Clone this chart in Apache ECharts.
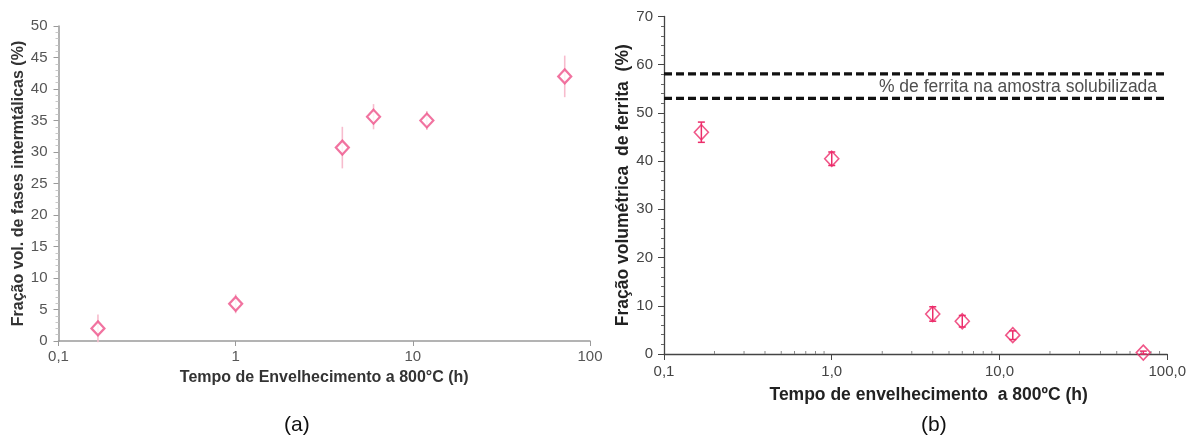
<!DOCTYPE html>
<html>
<head>
<meta charset="utf-8">
<script src="https://cdn.jsdelivr.net/npm/echarts@6/dist/echarts.min.js"></script>
<style>
  html, body { margin: 0; padding: 0; background: #fff; }
  #chart { width: 1189px; height: 441px; }
</style>
</head>
<body>
<div id="chart"></div>
<script>
// Aging time at 800 °C (h), shared by both panels
const agingHours = [0.167, 1, 4, 6, 12, 72];

// (a) intermetallic phase volume fraction (%) and its spread
const intermetallicPct = [2.0, 5.9, 30.7, 35.6, 35.0, 42.0];
const intermetallicErr = [2.2, 1.5, 3.3, 2.0, 1.5, 3.3];

// (b) ferrite volume fraction (%) and its spread
const ferritePct = [46.0, 40.5, 8.3, 6.8, 3.9, 0.3];
const ferriteErr = [2.1, 1.4, 1.5, 1.2, 0.9, 0.3];

// ferrite band of the solution-annealed sample (%)
const solubilizedBand = [58.1, 53.0];
const solubilizedLabel = '% de ferrita na amostra solubilizada';

// tick labels
const xTickLabelsA = ['0,1', '1', '10', '100'];
const xTickLabelsB = ['0,1', '1,0', '10,0', '100,0'];
const logMinorTicksB = [0.2, 0.3, 0.4, 0.5, 0.6, 0.7, 0.8, 0.9,
                        2, 3, 4, 5, 6, 7, 8, 9,
                        20, 30, 40, 50, 60, 70, 80, 90];

const FONT = 'Liberation Sans, Arial, sans-serif';
const PINK_A = '#ee5088';
const PINK_B = '#ec2c6a';

function decadeLabel(labels) {
  return function (v) {
    const i = Math.round(Math.log10(v)) + 1;
    return labels[i] !== undefined ? labels[i] : '';
  };
}

function errorBars(color, width, cap) {
  return function (params, api) {
    const x = api.value(0), y = api.value(1), e = api.value(2);
    const top = api.coord([x, y + e]);
    const bot = api.coord([x, y - e]);
    const style = { stroke: color, lineWidth: width };
    const children = [
      { type: 'line', shape: { x1: top[0], y1: top[1], x2: bot[0], y2: bot[1] }, style: style }
    ];
    if (cap > 0) {
      children.push({ type: 'line', shape: { x1: top[0] - cap, y1: top[1], x2: top[0] + cap, y2: top[1] }, style: style });
      children.push({ type: 'line', shape: { x1: bot[0] - cap, y1: bot[1], x2: bot[0] + cap, y2: bot[1] }, style: style });
    }
    return { type: 'group', children: children };
  };
}

const pointsA = agingHours.map((t, i) => [t, intermetallicPct[i]]);
const barsA = agingHours.map((t, i) => [t, intermetallicPct[i], intermetallicErr[i]]);
const pointsB = agingHours.map((t, i) => [t, ferritePct[i]]);
const barsB = agingHours.map((t, i) => [t, ferritePct[i], ferriteErr[i]]);

const chart = echarts.init(document.getElementById('chart'), null, { renderer: 'canvas' });

chart.setOption({
  backgroundColor: '#ffffff',
  animation: false,
  textStyle: { fontFamily: FONT },
  grid: [
    { left: 58.5, top: 26, width: 531.5, height: 315 },
    { left: 664, top: 16.5, width: 504, height: 337.5 }
  ],
  xAxis: [
    {
      gridIndex: 0, type: 'log', logBase: 10, min: 0.1, max: 100,
      name: 'Tempo de Envelhecimento a 800°C (h)',
      nameLocation: 'middle', nameGap: 29,
      nameTextStyle: { fontFamily: FONT, fontSize: 16, fontWeight: 'bold', color: '#333' },
      axisLine: { lineStyle: { color: '#9a9a9a', width: 1.5 } },
      axisTick: { show: true, length: 5, lineStyle: { color: '#9a9a9a' } },
      axisLabel: { margin: 8, fontSize: 15, color: '#555', formatter: decadeLabel(xTickLabelsA) },
      splitLine: { show: false }
    },
    {
      gridIndex: 1, type: 'log', logBase: 10, min: 0.1, max: 100,
      name: 'Tempo de envelhecimento  a 800ºC (h)',
      nameLocation: 'middle', nameGap: 32,
      nameTextStyle: { fontFamily: FONT, fontSize: 17.5, fontWeight: 'bold', color: '#222', padding: [0, 0, 0, 26] },
      axisLine: { lineStyle: { color: '#444', width: 1.3 } },
      axisTick: { show: true, length: 6, lineStyle: { color: '#444' } },
      axisLabel: { margin: 10, fontSize: 15, color: '#444', formatter: decadeLabel(xTickLabelsB) },
      splitLine: { show: false }
    }
  ],
  yAxis: [
    {
      gridIndex: 0, type: 'value', min: 0, max: 50, interval: 5,
      name: 'Fração vol. de fases intermtálicas (%)',
      nameLocation: 'middle', nameGap: 29,
      nameTextStyle: { fontFamily: FONT, fontSize: 16, fontWeight: 'bold', color: '#333' },
      axisLine: { show: true, lineStyle: { color: '#9a9a9a', width: 1.5 } },
      axisTick: { show: true, length: 5, lineStyle: { color: '#9a9a9a' } },
      minorTick: { show: true, splitNumber: 5, length: 3, lineStyle: { color: '#c8c8c8' } },
      axisLabel: { margin: 11, fontSize: 15, color: '#555' },
      splitLine: { show: false }
    },
    {
      gridIndex: 1, type: 'value', min: 0, max: 70, interval: 10,
      name: 'Fração volumétrica  de ferrita  (%)',
      nameLocation: 'middle', nameGap: 31,
      nameTextStyle: { fontFamily: FONT, fontSize: 17.5, fontWeight: 'bold', color: '#222' },
      axisLine: { show: true, lineStyle: { color: '#444', width: 1.3 } },
      axisTick: { show: true, length: 6, lineStyle: { color: '#444' } },
      minorTick: { show: true, splitNumber: 5, length: 3, lineStyle: { color: '#666' } },
      axisLabel: { margin: 11, fontSize: 15, color: '#444' },
      splitLine: { show: false }
    }
  ],
  graphic: [
    { type: 'text', left: 284, top: 415, style: { text: '(a)', fontFamily: FONT, fontSize: 21, fill: '#111' } },
    { type: 'text', left: 921, top: 415, style: { text: '(b)', fontFamily: FONT, fontSize: 21, fill: '#111' } }
  ],
  series: [
    // (a) spread bars and points
    {
      type: 'custom', xAxisIndex: 0, yAxisIndex: 0, z: 2,
      renderItem: errorBars('#f7bccd', 1.6, 0),
      encode: { x: 0, y: 1 },
      data: barsA
    },
    {
      type: 'scatter', xAxisIndex: 0, yAxisIndex: 0, z: 3,
      symbol: 'diamond', symbolSize: [13, 14],
      itemStyle: { color: '#ffffff', borderColor: PINK_A, borderWidth: 2.2 },
      data: pointsA
    },
    // (b) reference band of the solubilized sample
    {
      type: 'line', xAxisIndex: 1, yAxisIndex: 1, z: 2,
      symbol: 'none', silent: true,
      lineStyle: { color: '#111', width: 3.2, type: [8, 4] },
      data: [[0.1, solubilizedBand[0]], [100, solubilizedBand[0]]]
    },
    {
      type: 'line', xAxisIndex: 1, yAxisIndex: 1, z: 2,
      symbol: 'none', silent: true,
      lineStyle: { color: '#111', width: 3.2, type: [8, 4] },
      data: [[0.1, solubilizedBand[1]], [100, solubilizedBand[1]]]
    },
    {
      type: 'scatter', xAxisIndex: 1, yAxisIndex: 1, z: 4,
      symbolSize: 0, silent: true,
      label: {
        show: true, position: 'left', distance: 0,
        formatter: solubilizedLabel,
        fontFamily: FONT, fontSize: 17.5, color: '#222'
      },
      data: [[87, (solubilizedBand[0] + solubilizedBand[1]) / 2 - 0.2]]
    },
    // (b) log minor ticks along the time axis
    {
      type: 'custom', xAxisIndex: 1, yAxisIndex: 1, z: 1, silent: true,
      renderItem: function (params, api) {
        const p = api.coord([api.value(0), 0]);
        return { type: 'line', shape: { x1: p[0], y1: p[1], x2: p[0], y2: p[1] - 3 },
                 style: { stroke: '#888', lineWidth: 1 } };
      },
      encode: { x: 0 },
      data: logMinorTicksB.map(v => [v])
    },
    // (b) spread bars and points
    {
      type: 'custom', xAxisIndex: 1, yAxisIndex: 1, z: 3,
      renderItem: errorBars(PINK_B, 1.5, 3.5),
      encode: { x: 0, y: 1 },
      data: barsB
    },
    {
      type: 'scatter', xAxisIndex: 1, yAxisIndex: 1, z: 2,
      symbol: 'diamond', symbolSize: [14, 15],
      itemStyle: { color: 'rgba(255,255,255,0)', borderColor: PINK_B, borderWidth: 1.6 },
      data: pointsB
    }
  ]
});
</script>
</body>
</html>
